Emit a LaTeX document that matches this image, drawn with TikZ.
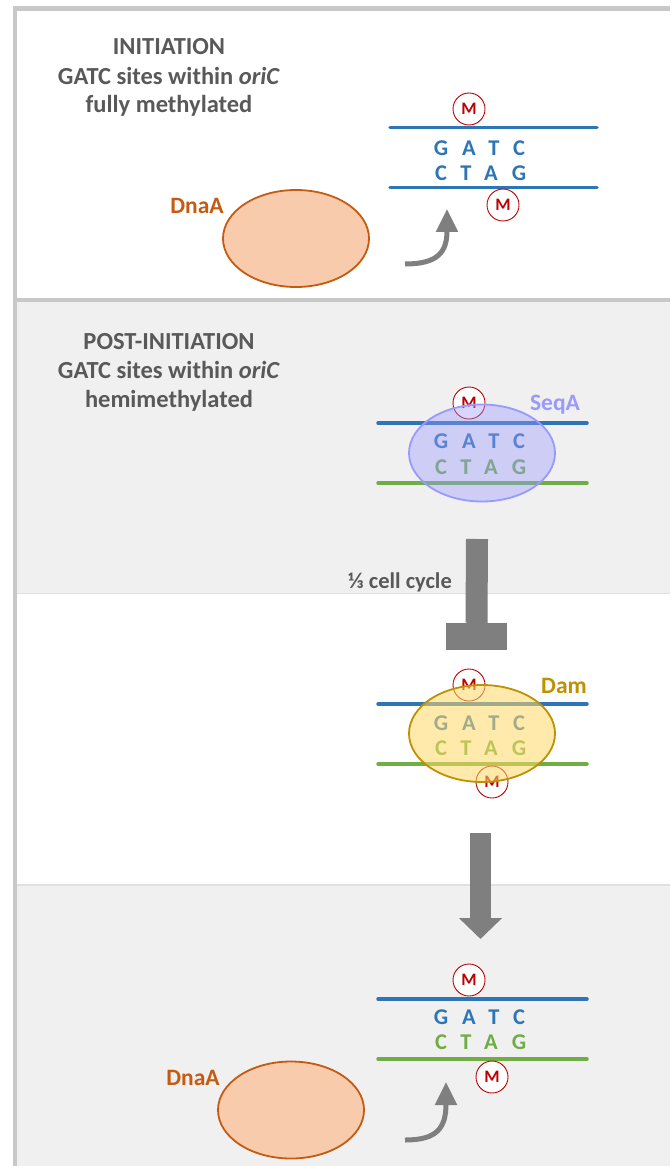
\documentclass[tikz,border=0pt]{standalone}
\usepackage{fontspec}
\setmainfont{Carlito}
\usetikzlibrary{shapes.geometric,arrows.meta}

\definecolor{framegray}{HTML}{C8C8C8}
\definecolor{panelgray}{HTML}{F0F0F0}
\definecolor{panelline}{HTML}{E0E0E0}
\definecolor{txt}{HTML}{595959}
\definecolor{strandblue}{HTML}{2E75B6}
\definecolor{strandgreen}{HTML}{70AD47}
\definecolor{mred}{HTML}{C00000}
\definecolor{dnaafill}{HTML}{F8CBAD}
\definecolor{dnaaline}{HTML}{C55A11}
\definecolor{seqa}{HTML}{9999FF}
\definecolor{damfill}{HTML}{FFD966}
\definecolor{damline}{HTML}{BF9000}
\definecolor{arrowgray}{HTML}{7F7F7F}

\tikzset{
  heading/.style={text=txt,font=\bfseries\fontsize{24.5}{29}\selectfont,inner sep=0,anchor=base},
  nt/.style={font=\bfseries\fontsize{22.5}{26}\selectfont,inner sep=0},
  strand/.style={line width=3.5pt,line cap=round},
  methyl/.style={circle,draw=mred,fill=white,line width=0.9pt,minimum size=32pt,
    inner sep=0,text=mred,font=\bfseries\fontsize{17.5}{20}\selectfont},
  protein/.style={ellipse,minimum width=146pt,minimum height=97pt,inner sep=0,line width=1.8pt},
  plabel/.style={font=\bfseries\fontsize{23.5}{28}\selectfont,inner sep=0,anchor=base},
  bendarrow/.style={draw=arrowgray,line width=5pt,-{Triangle[width=21pt,length=23pt]}},
}

% two rows of bases: #1 name prefix, #2 y of top row, #3 y of bottom row,
% #4 colour of top row, #5 colour of bottom row
\newcommand\gatcpair[5]{%
  \foreach \l/\x [count=\i] in {G/441,A/469,T/494,C/519}
    {\node[nt,text=#4] (#1t\i) at (\x,#2) {\l};}
  \foreach \l/\x [count=\i] in {C/441,T/466,A/491,G/519}
    {\node[nt,text=#5] (#1b\i) at (\x,#3) {\l};}
}

\begin{document}
\begin{tikzpicture}[x=1pt,y=-1pt]
\useasboundingbox (0,0) rectangle (670,1166);

% panel backgrounds
\fill[white] (17,11) rectangle (670,298);
\fill[panelgray] (17,302) rectangle (670,593);
\fill[white] (17,593) rectangle (670,885);
\fill[panelgray] (17,885) rectangle (670,1166);
\draw[panelline,line width=1pt] (17,593) -- (670,593);
\draw[panelline,line width=1.5pt] (17,885) -- (670,885);

% frame
\fill[framegray] (13,6) rectangle (670,11);
\fill[framegray] (13,298) rectangle (670,302);
\fill[framegray] (13,6) rectangle (17,1166);

% ---------------- initiation ----------------
\node[heading] (t1) at (169,55) {INITIATION};
\node[heading] (t1a) at (169,85) {GATC sites within \textit{oriC}};
\node[heading] (t1b) at (169,113) {fully methylated};

\coordinate (s1a) at (390,127.5); \coordinate (s1b) at (597,127.5);
\coordinate (s1c) at (390,187.5); \coordinate (s1d) at (597,187.5);
\draw[strand,strandblue] (s1a) -- (s1b);
\draw[strand,strandblue] (s1c) -- (s1d);
\gatcpair{p1}{148}{173}{strandblue}{strandblue}
\node[methyl] (m1t) at (469,109) {M};
\node[methyl] (m1b) at (503,205) {M};

\node[protein,draw=dnaaline,fill=dnaafill] (dnaa1) at (296,238.5) {};
\node[plabel,text=dnaaline] (dnaa1l) at (197,214) {DnaA};
\coordinate (r1s) at (405,264);
\coordinate (r1e) at (447,209);
\draw[bendarrow] (r1s) .. controls (438,264) and (447,252) .. (r1e);

% ---------------- post-initiation ----------------
\node[heading] (t2) at (169,349) {POST-INITIATION};
\node[heading] (t2a) at (169,378) {GATC sites within \textit{oriC}};
\node[heading] (t2b) at (169,407) {hemimethylated};

\coordinate (s2a) at (378,423); \coordinate (s2b) at (587,423);
\coordinate (s2c) at (378,483); \coordinate (s2d) at (587,483);
\draw[strand,strandblue] (s2a) -- (s2b);
\draw[strand,strandgreen] (s2c) -- (s2d);
\gatcpair{p2}{441}{467.5}{strandblue}{strandgreen}
\node[methyl] (m2t) at (469,403) {M};
\node[protein,draw=seqa,fill=seqa,fill opacity=0.4] (seqa) at (482,453) {};
\node[plabel,text=seqa] (seqal) at (555,410) {SeqA};

% one third of the cell cycle blocks re-initiation
\node[plabel,text=txt,font=\bfseries\fontsize{22.5}{26}\selectfont] (third) at (400,588) {⅓ cell cycle};
\node[rectangle,fill=arrowgray,minimum width=61pt,minimum height=27pt,inner sep=0] (tbar) at (476.5,636.5) {};
\coordinate (tb0) at (477,539);
\draw[arrowgray,line width=22pt] (tb0) -- (tbar.north);

% ---------------- Dam methylation ----------------
\coordinate (s3a) at (378,704); \coordinate (s3b) at (587,704);
\coordinate (s3c) at (378,764); \coordinate (s3d) at (587,764);
\draw[strand,strandblue] (s3a) -- (s3b);
\draw[strand,strandgreen] (s3c) -- (s3d);
\gatcpair{p3}{723.5}{748.5}{strandblue}{strandgreen}
\node[methyl] (m3t) at (469,685) {M};
\node[methyl] (m3b) at (492,782) {M};
\node[protein,draw=damline,fill=damfill,fill opacity=0.55] (dam) at (482,733.5) {};
\node[plabel,text=damline] (daml) at (564,693) {Dam};

\coordinate (d0) at (480.5,833);
\coordinate (d1) at (480.5,939);
\draw[arrowgray,line width=21pt,-{Triangle[width=42pt,length=21pt]}] (d0) -- (d1);

% ---------------- fully methylated again ----------------
\coordinate (s4a) at (378,999); \coordinate (s4b) at (587,999);
\coordinate (s4c) at (378,1059); \coordinate (s4d) at (587,1059);
\draw[strand,strandblue] (s4a) -- (s4b);
\draw[strand,strandgreen] (s4c) -- (s4d);
\gatcpair{p4}{1017.5}{1042.5}{strandblue}{strandgreen}
\node[methyl] (m4t) at (469,980) {M};
\node[methyl] (m4b) at (492,1077) {M};

\node[protein,draw=dnaaline,fill=dnaafill] (dnaa4) at (291,1110) {};
\node[plabel,text=dnaaline] (dnaa4l) at (193,1085) {DnaA};
\coordinate (r4s) at (405,1140);
\coordinate (r4e) at (446,1082);
\draw[bendarrow] (r4s) .. controls (437,1140) and (446,1128) .. (r4e);
\end{tikzpicture}
\end{document}
